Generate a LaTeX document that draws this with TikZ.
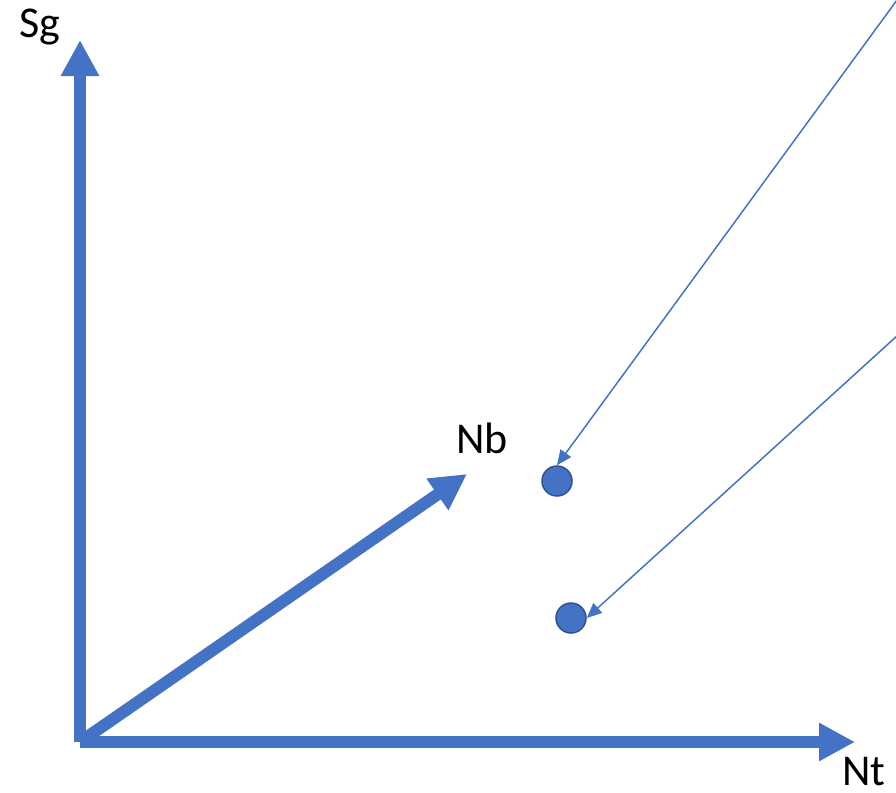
\documentclass[tikz,border=0pt]{standalone}
\usepackage{fontspec}
\setmainfont{Carlito}
\usetikzlibrary{arrows.meta}
\definecolor{axisblue}{HTML}{4472C4}
\definecolor{dotedge}{HTML}{2F528F}
\tikzset{
  axis/.style={draw=axisblue,line width=6pt,-{Triangle[length=18pt,width=18pt]}},
  pointer/.style={draw=axisblue,line width=0.75pt,-{Triangle[length=7.5pt,width=6.5pt]}},
  dot/.style={circle,fill=axisblue,draw=dotedge,line width=0.75pt,minimum size=15pt,inner sep=0pt},
  lbl/.style={font=\fontsize{22}{26}\selectfont,inner sep=0pt,anchor=base west}
}

\begin{document}
\begin{tikzpicture}[x=0.5pt,y=-0.5pt]
  \useasboundingbox (0,0) rectangle (896,793);
  \coordinate (O) at (80,742);
  \coordinate (Sgtip) at (80,40);
  \coordinate (Nttip) at (855,742);
  \coordinate (Nbtip) at (467,474);
  \coordinate (P1) at (897,0);
  \coordinate (P2) at (898,335);
  % axes
  \draw[axis] (O) -- (Sgtip);
  \draw[axis] (O) -- (Nttip);
  \draw[axis] (O) -- (Nbtip);
  \node[lbl] (sg) at (19,37) {Sg};
  \node[lbl,text depth=0pt] (nt) at (842,785) {Nt};
  \node[lbl] (nb) at (456,453) {Nb};
  % points
  \node[dot] (dot1) at (557,481) {};
  \node[dot] (dot2) at (571,618) {};
  \draw[pointer] (P1) -- (dot1.north);
  \draw[pointer] (P2) -- (dot2.east);
\end{tikzpicture}
\end{document}
